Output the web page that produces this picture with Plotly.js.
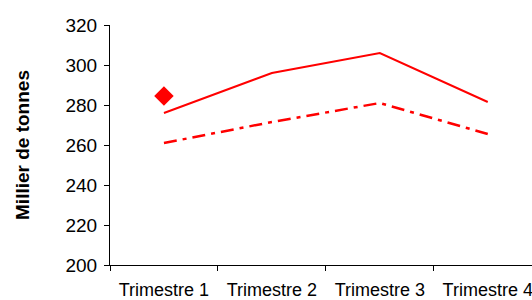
<!DOCTYPE html>
<html><head><meta charset="utf-8">
<script src="https://cdn.plot.ly/plotly-3.0.1.min.js"></script>
<style>body{margin:0;padding:0;background:#fff;}#chart{width:532px;height:300px;}</style>
</head><body><div id="chart"></div>
<script>
const categories = ["Trimestre 1", "Trimestre 2", "Trimestre 3", "Trimestre 4"];
const seriesSolid = [276, 296, 306, 281.5];
const seriesDashDot = [261, 271.5, 281, 265.5];
const markerCategory = ["Trimestre 1"];
const markerValue = [284.5];
const yTicks = [200, 220, 240, 260, 280, 300, 320];

const traces = [
  {x: categories, y: seriesSolid, type: 'scatter', mode: 'lines',
   line: {color: '#ff0000', width: 2}, showlegend: false},
  {x: categories, y: seriesDashDot, type: 'scatter', mode: 'lines',
   line: {color: '#ff0000', width: 2.5, dash: '13px,6px,4px,6px'}, showlegend: false},
  {x: markerCategory, y: markerValue, type: 'scatter', mode: 'markers',
   marker: {symbol: 'diamond', size: 15, color: '#ff0000'}, showlegend: false}
];

const layout = {
  width: 532, height: 300,
  margin: {l: 110, r: 0, t: 25, b: 35},
  paper_bgcolor: '#fff', plot_bgcolor: '#fff',
  font: {family: 'Liberation Sans, Arial, sans-serif', color: '#000'},
  xaxis: {
    type: 'category', range: [-0.5, 3.41], tickson: 'boundaries',
    showgrid: false, zeroline: false, showline: true, linecolor: '#000', linewidth: 1,
    ticks: 'outside', ticklen: 5, tickcolor: '#000', tickwidth: 1,
    tickfont: {size: 18}, ticklabelstandoff: 8, fixedrange: true
  },
  yaxis: {
    range: [200, 320], tickvals: yTicks, ticktext: yTicks.map(String),
    showgrid: false, zeroline: false, showline: true, linecolor: '#000', linewidth: 1,
    ticks: 'outside', ticklen: 5, tickcolor: '#000', tickwidth: 1,
    tickfont: {size: 19}, ticklabelstandoff: 3,
    title: {text: 'Millier de tonnes', font: {size: 19, weight: 'bold'}, standoff: 30},
    fixedrange: true
  }
};
Plotly.newPlot('chart', traces, layout, {displayModeBar: false, staticPlot: true});
</script>
</body></html>
